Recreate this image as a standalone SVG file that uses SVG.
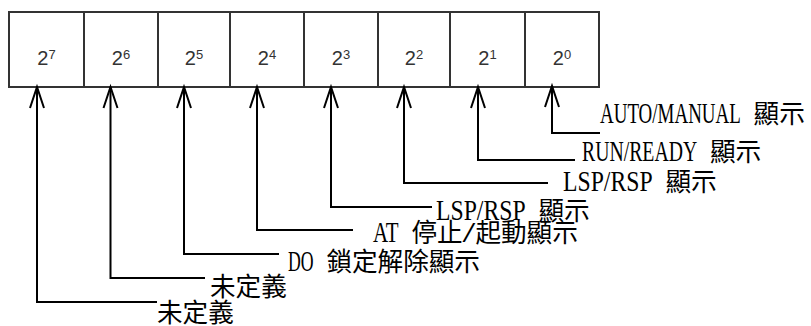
<svg xmlns="http://www.w3.org/2000/svg" width="811" height="326" viewBox="0 0 811 326">
<style>
.bit rect{fill:#fff;stroke:#333;stroke-width:2}
.bit text{font-family:"Liberation Sans",Arial,sans-serif;font-size:20px;fill:#333;text-anchor:middle}
.sup{font-size:13px}
.lbl{font-family:"Liberation Serif","Noto Sans CJK TC",serif;font-size:25.6px;fill:#000}
.lat{font-size:29px}
.cjk{font-family:"Noto Sans CJK TC",sans-serif;font-size:25.6px}
.conn path{fill:none;stroke:#000;stroke-width:2}
</style>
<defs>
<marker id="ah" markerUnits="userSpaceOnUse" markerWidth="30" markerHeight="30" refX="0" refY="0" orient="auto" overflow="visible">
<path d="M-21,-7 L0,0 L-21,7" fill="none" stroke="#000" stroke-width="2"/>
</marker>
</defs>
<rect width="811" height="326" fill="#fff"/>
<g id="bit7" class="bit"><rect x="9" y="12" width="75" height="75"/><text x="46.5" y="65">2<tspan class="sup" dy="-6">7</tspan></text></g>
<g id="bit6" class="bit"><rect x="84" y="12" width="74" height="75"/><text x="121" y="65">2<tspan class="sup" dy="-6">6</tspan></text></g>
<g id="bit5" class="bit"><rect x="158" y="12" width="72" height="75"/><text x="194" y="65">2<tspan class="sup" dy="-6">5</tspan></text></g>
<g id="bit4" class="bit"><rect x="230" y="12" width="74" height="75"/><text x="267" y="65">2<tspan class="sup" dy="-6">4</tspan></text></g>
<g id="bit3" class="bit"><rect x="304" y="12" width="74" height="75"/><text x="341" y="65">2<tspan class="sup" dy="-6">3</tspan></text></g>
<g id="bit2" class="bit"><rect x="378" y="12" width="72" height="75"/><text x="414" y="65">2<tspan class="sup" dy="-6">2</tspan></text></g>
<g id="bit1" class="bit"><rect x="450" y="12" width="75" height="75"/><text x="487.5" y="65">2<tspan class="sup" dy="-6">1</tspan></text></g>
<g id="bit0" class="bit"><rect x="525" y="12" width="74" height="75"/><text x="562" y="65">2<tspan class="sup" dy="-6">0</tspan></text></g>
<g id="connectors" class="conn">
<path d="M600,133 H552 V86" marker-end="url(#ah)"/>
<path d="M575,160 H478 V87" marker-end="url(#ah)"/>
<path d="M548,183 H404 V87" marker-end="url(#ah)"/>
<path d="M432,207 H331 V87" marker-end="url(#ah)"/>
<path d="M353,230 H257 V87" marker-end="url(#ah)"/>
<path d="M279,254 H184 V87" marker-end="url(#ah)"/>
<path d="M205,278 H110.5 V87" marker-end="url(#ah)"/>
<path d="M157,302 H37 V87" marker-end="url(#ah)"/>
</g>
<g id="label0"><text class="lbl" y="123"><tspan class="lat" x="600" textLength="140.8" lengthAdjust="spacingAndGlyphs">AUTO/MANUAL</tspan> <tspan class="cjk" x="753.6">顯示</tspan></text></g>
<g id="label1"><text class="lbl" y="161"><tspan class="lat" x="582" textLength="115.2" lengthAdjust="spacingAndGlyphs">RUN/READY</tspan> <tspan class="cjk" x="710">顯示</tspan></text></g>
<g id="label2"><text class="lbl" y="191"><tspan class="lat" x="563" textLength="89.6" lengthAdjust="spacingAndGlyphs">LSP/RSP</tspan> <tspan class="cjk" x="665.4">顯示</tspan></text></g>
<g id="label3"><text class="lbl" y="220"><tspan class="lat" x="436" textLength="89.6" lengthAdjust="spacingAndGlyphs">LSP/RSP</tspan> <tspan class="cjk" x="538.4">顯示</tspan></text></g>
<g id="label4"><text class="lbl" y="242"><tspan class="lat" x="373" textLength="25.6" lengthAdjust="spacingAndGlyphs">AT</tspan> <tspan class="cjk" x="411.4">停止</tspan><tspan class="lat" x="462.6" textLength="12.8" lengthAdjust="spacingAndGlyphs">/</tspan><tspan class="cjk" x="475.4">起動顯示</tspan></text></g>
<g id="label5"><text class="lbl" y="271"><tspan class="lat" x="288" textLength="25.6" lengthAdjust="spacingAndGlyphs">DO</tspan> <tspan class="cjk" x="326.4">鎖定解除顯示</tspan></text></g>
<g id="label6"><text class="lbl cjk" x="210" y="296">未定義</text></g>
<g id="label7"><text class="lbl cjk" x="157" y="322">未定義</text></g>
</svg>
